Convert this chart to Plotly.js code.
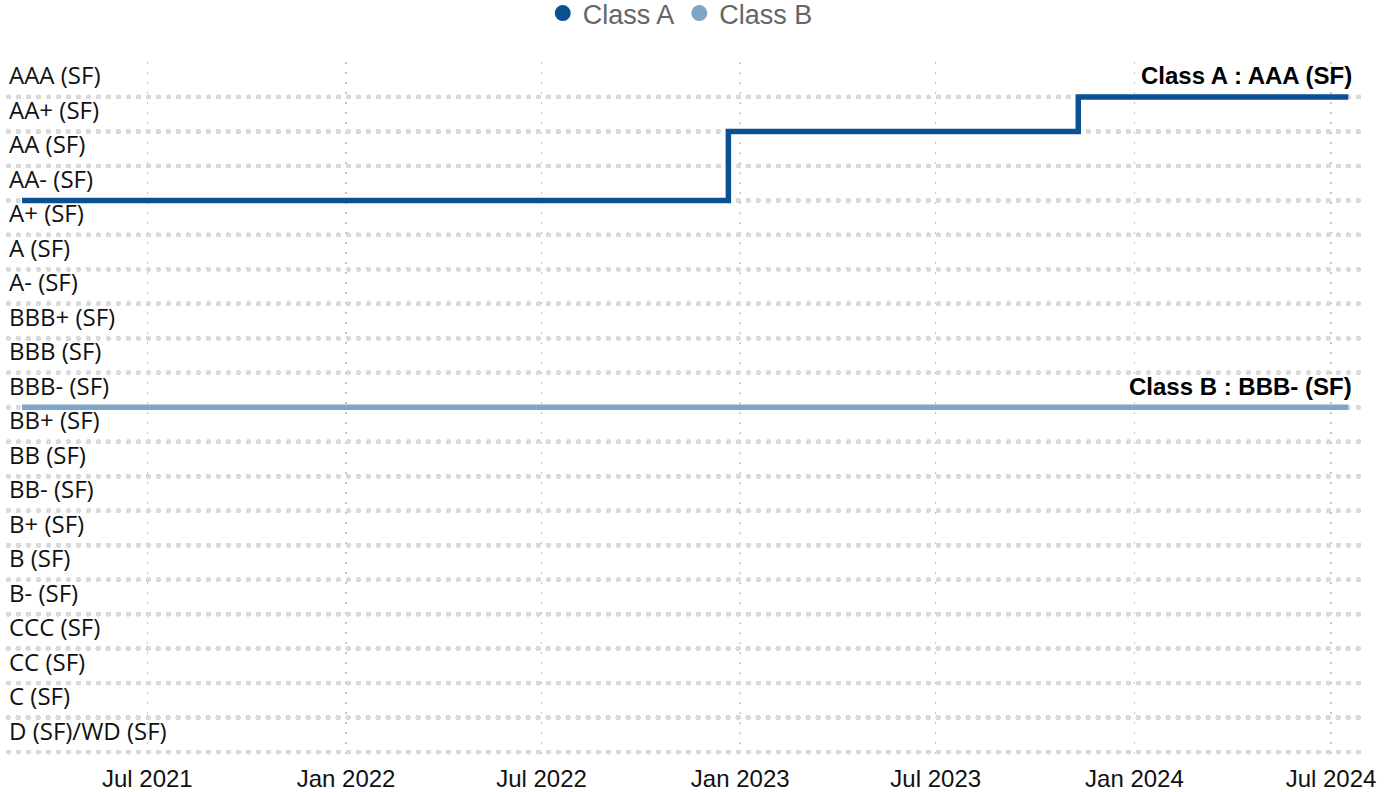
<!DOCTYPE html>
<html>
<head>
<meta charset="utf-8">
<script src="https://cdn.plot.ly/plotly-3.0.1.min.js"></script>
<style>
  html, body { margin: 0; padding: 0; background: #fff; }
  #chart { width: 1393px; height: 792px; }
  .gridlayer .y path { stroke-linecap: round; }
  .gridlayer .x path { stroke-linecap: round; }
</style>
</head>
<body>
<div id="chart"></div>
<script>
// Rating scale (top to bottom)
const ratings = [
  'AAA (SF)', 'AA+ (SF)', 'AA (SF)', 'AA- (SF)', 'A+ (SF)', 'A (SF)', 'A- (SF)',
  'BBB+ (SF)', 'BBB (SF)', 'BBB- (SF)', 'BB+ (SF)', 'BB (SF)', 'BB- (SF)',
  'B+ (SF)', 'B (SF)', 'B- (SF)', 'CCC (SF)', 'CC (SF)', 'C (SF)', 'D (SF)/WD (SF)'
];

// Class A rating history
const classADates   = ['2021-03-07', '2022-12-21', '2023-11-10', '2024-07-17'];
const classARatings = ['AA- (SF)', 'AA+ (SF)', 'AAA (SF)', 'AAA (SF)'];

// Class B rating history
const classBDates   = ['2021-03-07', '2024-07-17'];
const classBRatings = ['BBB- (SF)', 'BBB- (SF)'];

const seriesNames  = ['Class A', 'Class B'];
const seriesColors = ['#0a5093', '#7da5c8'];

const traces = [
  { x: classADates, y: classARatings, type: 'scatter', mode: 'lines',
    line: { shape: 'hv', color: seriesColors[0], width: 5.5 }, showlegend: false, hoverinfo: 'skip' },
  { x: classBDates, y: classBRatings, type: 'scatter', mode: 'lines',
    line: { shape: 'hv', color: seriesColors[1], width: 5.5 }, showlegend: false, hoverinfo: 'skip' },
  // legend entries (circle markers)
  { x: [null], y: [null], type: 'scatter', mode: 'markers', name: seriesNames[0],
    marker: { color: seriesColors[0], size: 16, symbol: 'circle' } },
  { x: [null], y: [null], type: 'scatter', mode: 'markers', name: seriesNames[1],
    marker: { color: seriesColors[1], size: 16, symbol: 'circle' } }
];

// end-of-line labels
const endLabels = [
  { x: classADates[classADates.length - 1], y: classARatings[classARatings.length - 1],
    text: '<b>' + seriesNames[0] + ' : ' + classARatings[classARatings.length - 1] + '</b>' },
  { x: classBDates[classBDates.length - 1], y: classBRatings[classBRatings.length - 1],
    text: '<b>' + seriesNames[1] + ' : ' + classBRatings[classBRatings.length - 1] + '</b>' }
].map(a => Object.assign(a, {
  xref: 'x', yref: 'y', showarrow: false, xanchor: 'right', yanchor: 'middle',
  xshift: 6, yshift: 21,
  font: { family: 'Liberation Sans, Arial, sans-serif', size: 24, color: '#000' }
}));

// rating labels drawn inside the plot, above each gridline
const ratingLabels = ratings.map(r => ({
  x: 0, xref: 'paper', y: r, yref: 'y', text: r, showarrow: false,
  xanchor: 'left', yanchor: 'middle', xshift: -1, yshift: 22,
  font: { family: 'Open Sans, Noto Sans, sans-serif', size: 24, color: '#111' }
}));

const layout = {
  width: 1393, height: 792,
  margin: { l: 8, r: 31, t: 63, b: 35, autoexpand: false },
  paper_bgcolor: '#fff', plot_bgcolor: '#fff',
  showlegend: true,
  legend: {
    orientation: 'h', x: 0.4965, xanchor: 'center', y: 1.036, yanchor: 'bottom',
    font: { family: 'Liberation Sans, Arial, sans-serif', size: 27, color: '#666' },
    itemwidth: 30, tracegroupgap: 0
  },
  xaxis: {
    type: 'date',
    range: ['2021-02-22', '2024-07-29 17:00'],
    tick0: '2021-01-01', dtick: 'M6', tickformat: '%b %Y',
    showgrid: true, gridcolor: '#c4c4c4', gridwidth: 1.5, griddash: '0.5px,9.5px',
    zeroline: false, showline: false, ticks: '',
    ticklabelstandoff: 5,
    tickfont: { family: 'Liberation Sans, Arial, sans-serif', size: 24, color: '#111' }
  },
  yaxis: {
    type: 'category', categoryorder: 'array', categoryarray: ratings,
    range: [19.145, -0.986],
    showgrid: true, gridcolor: '#dadada', gridwidth: 5, griddash: '0.5px,9.5px',
    zeroline: false, showline: false, ticks: '', showticklabels: false
  },
  annotations: ratingLabels.concat(endLabels)
};

Plotly.newPlot('chart', traces, layout, { staticPlot: true, displayModeBar: false });
</script>
</body>
</html>
